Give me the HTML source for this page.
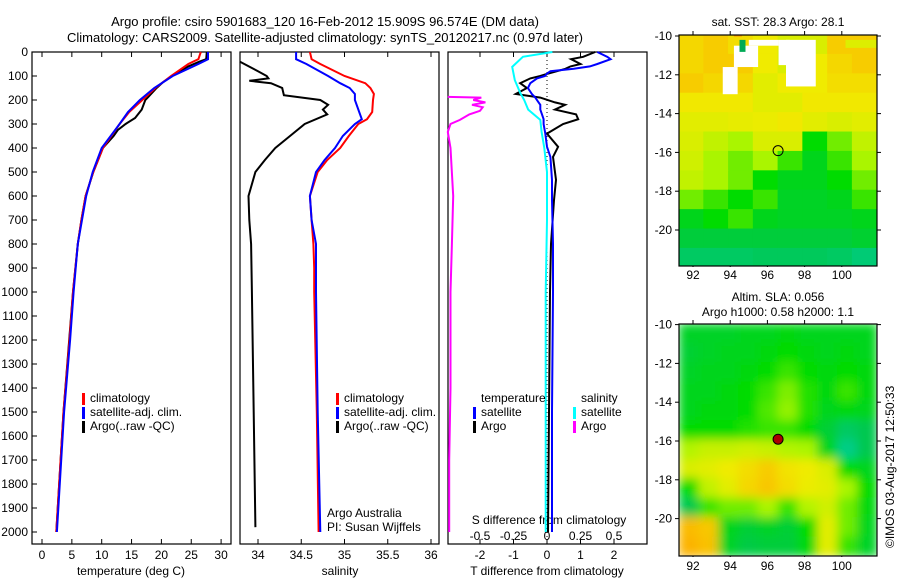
<!DOCTYPE html>
<html><head><meta charset="utf-8"><style>
body{margin:0;background:#fff}
svg{display:block;font-family:"Liberation Sans",sans-serif;font-size:12px}
</style></head><body>
<svg id="c" width="900" height="580" viewBox="0 0 900 580" xmlns="http://www.w3.org/2000/svg">
<defs><filter id="blur" x="0" y="0" width="1" height="1"><feGaussianBlur stdDeviation="5" edgeMode="duplicate"/></filter>
<clipPath id="m1c"><rect x="679" y="35" width="198" height="231"/></clipPath>
<clipPath id="m2c"><rect x="679" y="324" width="198" height="232"/></clipPath></defs>
<text x="325" y="26" text-anchor="middle" font-size="13">Argo profile: csiro 5901683_120 16-Feb-2012 15.909S 96.574E (DM data)</text>
<text x="325" y="42" text-anchor="middle" font-size="13">Climatology: CARS2009. Satellite-adjusted climatology: synTS_20120217.nc (0.97d later)</text>
<text x="778" y="26" text-anchor="middle">sat. SST: 28.3 Argo: 28.1</text>
<text x="778" y="301" text-anchor="middle">Altim. SLA: 0.056</text>
<text x="778" y="316" text-anchor="middle">Argo h1000: 0.58 h2000: 1.1</text>
<text transform="translate(894,548) rotate(-90)">©IMOS 03-Aug-2017 12:50:33</text>
<g id="g"></g>
</svg>
<script>
// ---- data ----
const tDepth=[0,30,50,100,150,200,250,300,400,500,600,700,800,1000,1200,1500,2000];
const tClim=[26.6,26.2,24.5,21.6,19.0,16.8,14.6,13.0,10.2,8.6,7.3,6.6,6.0,5.2,4.6,3.6,2.4];
const tSat=[27.8,27.8,26.2,21.9,18.8,16.4,14.4,13.0,10.0,8.5,7.4,6.7,6.0,5.3,4.7,3.7,2.5];
const tArgoD=[0,30,40,60,100,125,150,187,200,240,275,300,325,350,400,500,600,700,800,1000,1500,2000];
const tArgo=[27.6,27.5,26.4,24.5,21.8,20.3,19.2,17.8,17.3,16.7,15.6,14.0,12.7,12.0,10.2,8.6,7.3,6.6,6.0,5.2,3.6,2.4];
const sDepth=[0,30,50,100,130,150,175,200,250,280,300,350,400,450,500,600,700,800,900,1000,1500,2000];
const sClim=[34.6,34.62,34.72,35.0,35.24,35.3,35.34,35.33,35.32,35.26,35.16,35.05,34.95,34.8,34.69,34.6,34.62,34.64,34.65,34.65,34.68,34.7];
const sSat=[34.44,34.44,34.56,34.81,34.95,35.06,35.12,35.12,35.17,35.2,35.12,34.98,34.89,34.77,34.67,34.6,34.62,34.67,34.67,34.67,34.69,34.72];
const sArgoD=[40,80,100,110,120,130,150,180,200,220,240,260,300,350,400,450,500,600,700,800,1000,1500,1980];
const sArgo=[33.79,34.0,34.1,34.12,33.9,34.15,34.28,34.3,34.72,34.81,34.75,34.8,34.54,34.37,34.2,34.08,33.97,33.89,33.9,33.92,33.93,33.95,33.97];
const dDepth=[0,20,30,50,60,70,80,90,100,110,130,150,175,190,210,220,240,260,280,300,340,395,437,533,617,800,1000,1500,2000];
const dTsat=[1.5,1.8,1.9,1.5,1.28,0.8,0.1,0.0,-0.06,-0.3,-0.5,-0.57,-0.45,-0.35,-0.25,-0.2,-0.2,-0.15,-0.1,-0.1,-0.05,0.0,0.1,0.15,0.15,0.18,0.18,0.15,0.15];
const dTargo=[1.44,1.08,0.72,1.0,0.7,0.55,0.3,0.03,-0.2,-0.5,-0.8,-0.6,-0.93,-0.2,0.24,0.54,0.24,0.87,0.93,0.48,0.0,0.33,0.18,0.27,0.21,0.12,0.09,0.06,0.03];
const sDepthD=[0,20,62,117,170,200,240,283,333,400,500,700,1000,1500,2000];
const dSsat=[0.04,-0.18,-0.26,-0.24,-0.2,-0.17,-0.14,-0.05,-0.04,-0.02,0.0,0.0,-0.01,-0.01,-0.01];
const dSargoD=[187,190,200,210,220,230,245,260,283,300,333,400,600,800,1000,1400,1700,2000];
const dSargo=[-0.74,-0.49,-0.55,-0.46,-0.56,-0.48,-0.5,-0.58,-0.65,-0.72,-0.74,-0.72,-0.7,-0.71,-0.72,-0.72,-0.73,-0.73];
const depthTicks=[0,100,200,300,400,500,600,700,800,900,1000,1100,1200,1300,1400,1500,1600,1700,1800,1900,2000];
const tTicks=[0,5,10,15,20,25,30];
const sTicks=[34,34.5,35,35.5,36];
const tdTicks=[-2,-1,0,1,2];
const sdTicks=[-0.5,-0.25,0,0.25,0.5];
const sdLabels=["-0.5","-0.25","0","0.25","0.5"];
const lonTicks=[92,94,96,98,100];
const latTicks=[-10,-12,-14,-16,-18,-20];
const sstGrid=[
[0.82,0.86,0.8,0.75,0.7,0.7,0.86,0.86],
[0.82,0.86,0.86,0.75,0.7,0.75,0.82,0.86],
[0.86,0.82,0.82,0.72,0.75,0.75,0.8,0.8],
[0.76,0.76,0.76,0.72,0.72,0.76,0.76,0.76],
[0.72,0.72,0.73,0.74,0.76,0.72,0.7,0.72],
[0.7,0.65,0.6,0.7,0.7,0.45,0.55,0.65],
[0.68,0.6,0.55,0.6,0.5,0.4,0.5,0.6],
[0.65,0.6,0.55,0.45,0.4,0.4,0.45,0.55],
[0.55,0.5,0.45,0.5,0.38,0.38,0.4,0.5],
[0.4,0.45,0.5,0.4,0.38,0.38,0.38,0.4],
[0.34,0.34,0.34,0.34,0.34,0.34,0.34,0.36],
[0.25,0.25,0.25,0.27,0.27,0.27,0.25,0.2]];
const slaGrid=[
[0.38,0.38,0.38,0.4,0.4,0.42,0.4,0.4,0.4,0.4],
[0.36,0.38,0.4,0.4,0.42,0.45,0.42,0.4,0.42,0.4],
[0.38,0.4,0.4,0.42,0.45,0.5,0.45,0.42,0.45,0.42],
[0.4,0.4,0.42,0.45,0.5,0.56,0.48,0.42,0.5,0.42],
[0.4,0.42,0.42,0.45,0.52,0.58,0.48,0.4,0.42,0.4],
[0.45,0.45,0.45,0.48,0.5,0.5,0.45,0.35,0.25,0.3],
[0.62,0.66,0.66,0.68,0.66,0.62,0.6,0.4,0.15,0.3],
[0.7,0.72,0.75,0.8,0.86,0.78,0.75,0.7,0.45,0.4],
[0.45,0.65,0.72,0.82,0.88,0.8,0.74,0.72,0.6,0.45],
[0.3,0.5,0.55,0.55,0.6,0.5,0.62,0.68,0.55,0.42],
[0.92,0.88,0.4,0.35,0.38,0.35,0.45,0.72,0.55,0.4],
[0.95,0.9,0.38,0.32,0.34,0.34,0.42,0.72,0.5,0.38]];
const argoLon=96.574, argoLat=-15.909;

// ---- scales ----
const yD=d=>52+d*0.24;
const xT=t=>42+t*5.97;
const xS=s=>258+(s-34)*86.5;
const xTD=t=>547+t*33.5;
const xSD=s=>547+s*134;
const xLon=l=>693+(l-92)*18.6;
const yLat1=l=>36+(-10-l)*19.4;
const yLat2=l=>441+(-16-l)*19.4;
const NS="http://www.w3.org/2000/svg";
const G=document.getElementById('g');
function mk(tag,at,parent){const e=document.createElementNS(NS,tag);for(const k in at)e.setAttribute(k,at[k]);(parent||G).appendChild(e);return e;}
function line(xs,ys,xf,col,w,name){
  const p=xs.map((v,i)=>xf(v).toFixed(1)+','+yD(ys[i]).toFixed(1)).join(' ');
  const e=mk('polyline',{points:p,fill:'none',stroke:col,'stroke-width':w});
  
  
}
function colour(v){
  const st=[[0,[0,210,190]],[0.3,[0,200,80]],[0.45,[0,220,0]],[0.6,[170,245,0]],[0.75,[240,235,0]],[1,[255,165,0]]];
  for(let i=1;i<st.length;i++){if(v<=st[i][0]){const a=st[i-1],b=st[i],f=(v-a[0])/(b[0]-a[0]);return 'rgb('+a[1].map((c,j)=>Math.round(c+(b[1][j]-c)*f)).join(',')+')';}}
  return 'rgb(255,165,0)';
}
function frame(x,y,w,h,name){const e=mk('rect',{x:x,y:y,width:w,height:h,fill:'none',stroke:'#000','stroke-width':1.2});
  
  }
function txt(x,y,s,anchor,name){const e=mk('text',{x:x,y:y,'text-anchor':anchor||'start'});e.textContent=s;
  
  return e;}

// ---- panels ----
const pTop=52,pBot=544;
[[32,'temperature-panel'],[240,'salinity-panel'],[448,'difference-panel']].forEach(p=>frame(p[0],pTop,199,pBot-pTop,p[1]));
depthTicks.forEach(d=>{mk('line',{x1:32,x2:37,y1:yD(d),y2:yD(d),stroke:'#000'});txt(28,yD(d)+4,String(d),'end','depth-tick-label');});
tTicks.forEach(t=>{mk('line',{x1:xT(t),x2:xT(t),y1:pBot,y2:pBot-5,stroke:'#000'});mk('line',{x1:xT(t),x2:xT(t),y1:pTop,y2:pTop+5,stroke:'#000'});txt(xT(t),559,String(t),'middle','temperature-tick-label');});
sTicks.forEach(s=>{mk('line',{x1:xS(s),x2:xS(s),y1:pBot,y2:pBot-5,stroke:'#000'});mk('line',{x1:xS(s),x2:xS(s),y1:pTop,y2:pTop+5,stroke:'#000'});txt(xS(s),559,String(s),'middle','salinity-tick-label');});
tdTicks.forEach(t=>{mk('line',{x1:xTD(t),x2:xTD(t),y1:pBot,y2:pBot-5,stroke:'#000'});mk('line',{x1:xTD(t),x2:xTD(t),y1:pTop,y2:pTop+5,stroke:'#000'});txt(xTD(t),559,String(t),'middle','t-diff-tick-label');});
sdTicks.forEach((s,i)=>{mk('line',{x1:xSD(s),x2:xSD(s),y1:544,y2:540,stroke:'#000'});txt(xSD(s),540,sdLabels[i],'middle','s-diff-tick-label');});
txt(131,575,'temperature (deg C)','middle','temperature-axis-title');
txt(340,575,'salinity','middle','salinity-axis-title');
txt(547,575,'T difference from climatology','middle','t-diff-axis-title');
txt(549,524,'S difference from climatology','middle','s-diff-axis-title');
txt(327,517,'Argo Australia','start','argo-australia-label');
txt(327,531,'PI: Susan Wijffels','start','pi-label');
mk('line',{x1:547,x2:547,y1:pTop,y2:pBot,stroke:'#000','stroke-dasharray':'1,3'});

line(tArgo,tArgoD,xT,'#000',2,'temp-argo-line');
line(tClim,tDepth,xT,'#f00',2,'temp-climatology-line');
line(tSat,tDepth,xT,'#00f',2,'temp-satellite-line');
line(sArgo,sArgoD,xS,'#000',2,'sal-argo-line');
line(sClim,sDepth,xS,'#f00',2,'sal-climatology-line');
line(sSat,sDepth,xS,'#00f',2,'sal-satellite-line');
line(dSargo,dSargoD,xSD,'#f0f',2,'s-diff-argo-line');
line(dTargo,dDepth,xTD,'#000',2,'t-diff-argo-line');
line(dTsat,dDepth,xTD,'#00f',2,'t-diff-satellite-line');
line(dSsat,sDepthD,xSD,'#0ff',2,'s-diff-satellite-line');

function leg(x,y,col,label,name){mk('rect',{x:x,y:y-9,width:3,height:12,fill:col});txt(x+8,y,label,'start',name);}
[[82,'climatology','#f00'],[82,'satellite-adj. clim.','#00f'],[82,'Argo(..raw -QC)','#000']].forEach((l,i)=>leg(l[0],402+i*14,l[2],l[1],'legend-entry'));
[[336,'climatology','#f00'],[336,'satellite-adj. clim.','#00f'],[336,'Argo(..raw -QC)','#000']].forEach((l,i)=>leg(l[0],402+i*14,l[2],l[1],'legend-entry'));
txt(481,402,'temperature','start','legend-heading');
txt(581,402,'salinity','start','legend-heading');
leg(473,416,'#00f','satellite','legend-entry');leg(473,430,'#000','Argo','legend-entry');
leg(573,416,'#0ff','satellite','legend-entry');leg(573,430,'#f0f','Argo','legend-entry');

// ---- maps ----
function map(grid,yLat,clip,blur,name){
  const g=mk('g',{'clip-path':'url(#'+clip+')'});
  
  
  const inner=blur?mk('g',{filter:'url(#blur)'},g):g;
  const nc=grid[0].length, lw=(101.9-91.25)/nc;
  grid.forEach((row,r)=>row.forEach((v,c)=>{
    const lo=91.25+c*lw, la=-9.95-r;
    mk('rect',{x:xLon(lo)-0.5,y:yLat(la)-0.5,width:lw*18.6+1,height:20.4,fill:colour(v)},inner);
  }));
  return g;
}
const g1=map(sstGrid,yLat1,'m1c',false,'sst-map');
[[93.6,94.4,-11.6,-13],[94.2,95.5,-10.5,-11.6],[95,96.6,-10.2,-10.5],[97.0,98.6,-10.2,-12.6],[96.6,97.2,-10.2,-11.5]].forEach(b=>mk('rect',{x:xLon(b[0]),y:yLat1(b[2]),width:xLon(b[1])-xLon(b[0]),height:yLat1(b[3])-yLat1(b[2]),fill:'#fff'},g1));
mk('rect',{x:xLon(94.5),y:yLat1(-10.2),width:6,height:12,fill:'#0a5'},g1);
mk('rect',{x:xLon(94.2),y:yLat1(-9.95),width:8,height:1.5,fill:'#f90'},g1);
mk('rect',{x:xLon(100.2),y:yLat1(-10.2),width:40,height:8,fill:'#de0'},g1);
mk('circle',{cx:xLon(argoLon),cy:yLat1(argoLat),r:5,fill:'none',stroke:'#000'});
map(slaGrid,yLat2,'m2c',true,'sla-map');
mk('circle',{cx:xLon(argoLon),cy:yLat2(argoLat),r:5,fill:'#a00',stroke:'#000'});
frame(679,35,198,231,'sst-map-frame');frame(679,324,198,232,'sla-map-frame');
[[yLat1,35,266,279],[yLat2,324,556,570]].forEach(m=>{
  const [yl,t,b,ly]=m;
  lonTicks.forEach(l=>{mk('line',{x1:xLon(l),x2:xLon(l),y1:t,y2:t-4,stroke:'#000'});mk('line',{x1:xLon(l),x2:xLon(l),y1:b,y2:b+1,stroke:'#000'});txt(xLon(l),ly,String(l),'middle','longitude-tick-label');});
  latTicks.forEach(l=>{const y=yl(l);if(y<t-1||y>b)return;mk('line',{x1:675,x2:679,y1:y,y2:y,stroke:'#000'});mk('line',{x1:877,x2:881,y1:y,y2:y,stroke:'#000'});txt(672,y+4,String(l),'end','latitude-tick-label');});
});
</script>
</body></html>
